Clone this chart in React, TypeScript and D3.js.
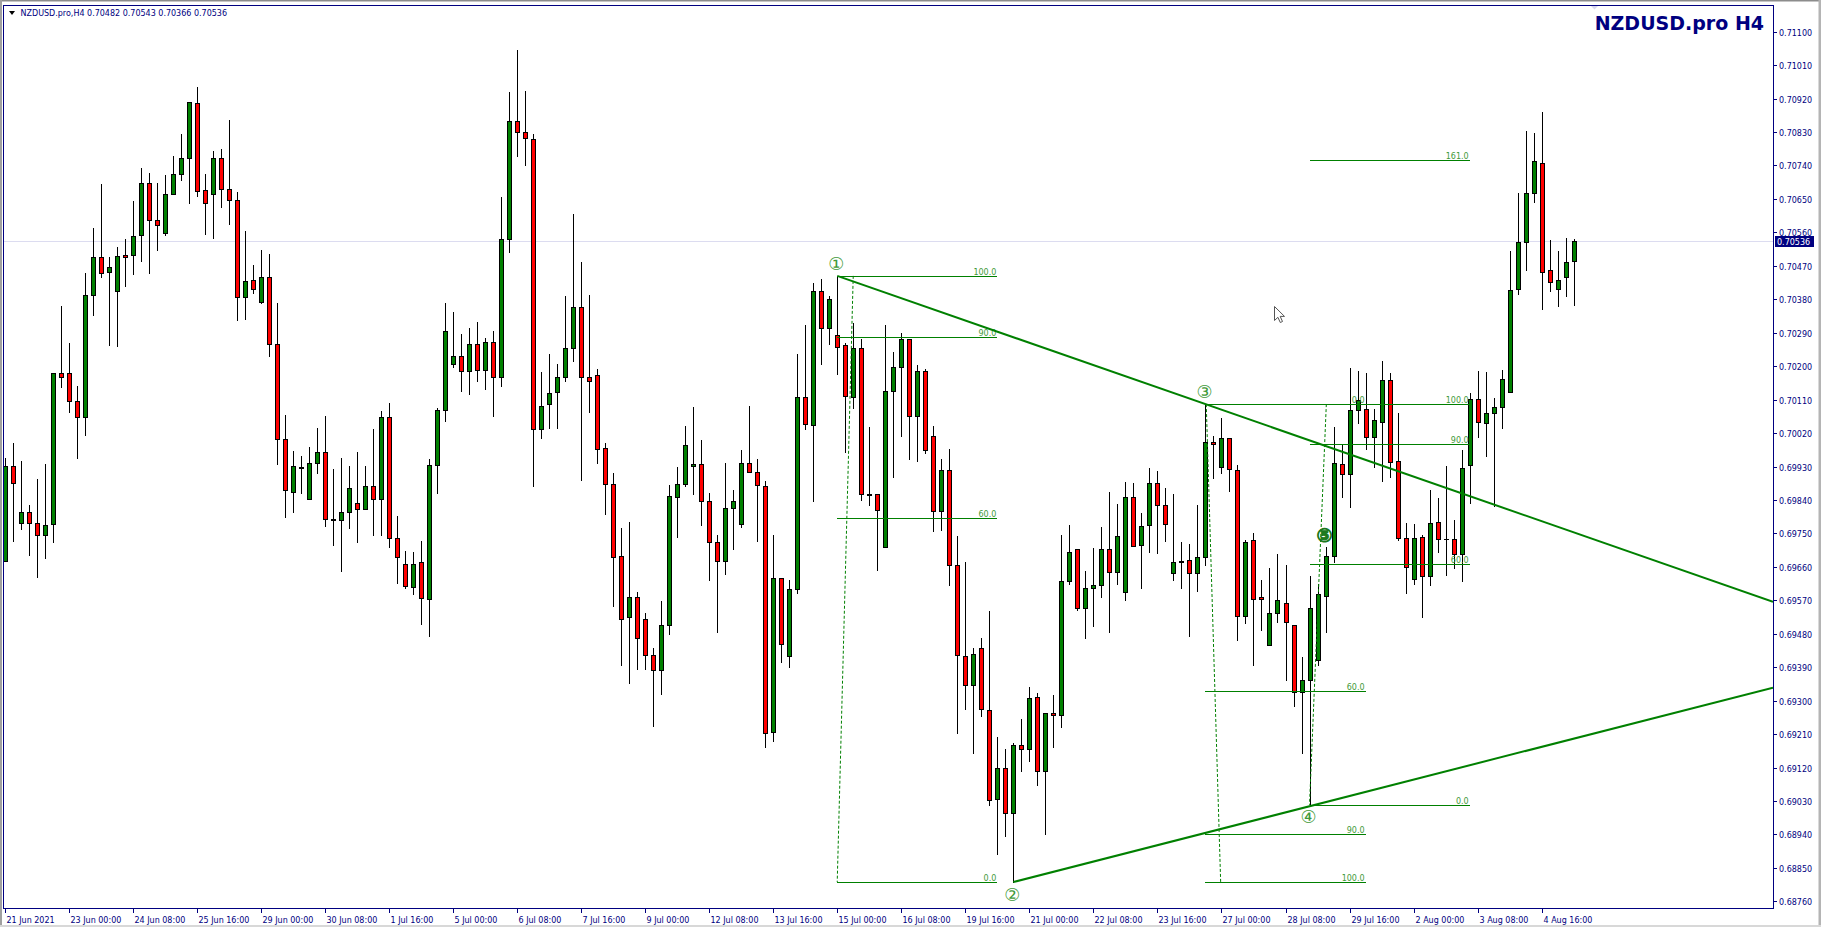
import React from 'react';
import * as d3 from 'd3';

const W = 1821;
const H = 927;
const PLOT = { left: 3, top: 4.5, right: 1773, bottom: 908 };

const SYMBOL = 'NZDUSD.pro';
const PERIOD = 'H4';
const POINT = 0.00001; // quotes below are stored in points

const opens = [
  69677, 69932, 69777, 69807, 69777, 69747, 69775, 70183, 70183, 70106, 70062, 70391, 70493, 70454, 70401, 70498,
  70498, 70553, 70692, 70593, 70558, 70663, 70716, 70760, 70907, 70673, 70663, 70760, 70676, 70646, 70386, 70431,
  70373, 70441, 70259, 70004, 69861, 69927, 69844, 69939, 69968, 69788, 69785, 69807, 69831, 69817, 69879, 69842,
  70062, 69737, 69667, 69605, 69672, 69574, 69934, 70081, 70207, 70227, 70187, 70260, 70189, 70264, 70171, 70542,
  70861, 70829, 70811, 70030, 70097, 70131, 70170, 70248, 70359, 70171, 70175, 69980, 69884, 69689, 69524, 69580,
  69521, 69422, 69383, 69503, 69849, 69884, 69931, 69936, 69837, 69728, 69676, 69818, 69775, 69939, 69915, 69877,
  69216, 69630, 69420, 69600, 70118, 70043, 70401, 70304, 70283, 70257, 70117, 70248, 69857, 69855, 69714, 70133,
  70197, 70274, 70066, 70186, 70012, 69810, 69922, 69666, 69421, 69342, 69443, 69274, 69036, 69118, 68998, 69180,
  69171, 69310, 69110, 69267, 69261, 69621, 69707, 69549, 69602, 69610, 69707, 69646, 69593, 69847, 69718, 69772,
  69887, 69826, 69643, 69673, 69678, 69643, 69686, 69995, 69930, 70006, 69922, 69528, 69732, 69579, 69451, 69536,
  69564, 69505, 69323, 69355, 69409, 69582, 69690, 69936, 69911, 70081, 70084, 70010, 70049, 70162, 69944, 69737,
  69627, 69740, 69636, 69780, 69734, 69734, 69696, 69933, 70111, 70046, 70073, 70090, 70130, 70407, 70535, 70665,
  70748, 70458, 70409, 70440, 70482,
];
const highs = [
  69952, 69993, 69945, 69827, 69897, 69937, 70183, 70362, 70262, 70146, 70450, 70573, 70691, 70493, 70520, 70542,
  70644, 70733, 70719, 70693, 70714, 70766, 70824, 70911, 70951, 70717, 70778, 70784, 70863, 70668, 70564, 70472,
  70512, 70502, 70370, 70069, 69972, 69958, 69982, 70034, 70066, 69923, 69953, 69932, 69969, 69932, 70031, 70080,
  70101, 69797, 69704, 69700, 69729, 69950, 70087, 70370, 70346, 70287, 70303, 70319, 70275, 70294, 70655, 70938,
  71050, 70941, 70826, 70185, 70234, 70206, 70388, 70610, 70481, 70392, 70193, 69993, 69913, 69765, 69781, 69593,
  69535, 69442, 69568, 69881, 69929, 70039, 70090, 70002, 69858, 69745, 69940, 69868, 69975, 70094, 69951, 69892,
  69746, 69630, 69625, 70234, 70311, 70424, 70435, 70390, 70443, 70262, 70316, 70274, 70036, 69857, 70310, 70238,
  70289, 70274, 70202, 70193, 70039, 69949, 69978, 69743, 69673, 69442, 69469, 69542, 69202, 69170, 69185, 69251,
  69338, 69321, 69267, 69315, 69746, 69773, 69707, 69649, 69712, 69767, 69862, 69829, 69888, 69886, 69804, 69927,
  69918, 69872, 69857, 69727, 69721, 69827, 70099, 70012, 70060, 70006, 69935, 69732, 69751, 69624, 69658, 69695,
  69666, 69505, 69417, 69636, 69615, 69713, 70036, 69988, 70196, 70186, 70181, 70085, 70214, 70183, 70074, 69778,
  69775, 69747, 69867, 69846, 69931, 69786, 69974, 70127, 70187, 70184, 70114, 70190, 70510, 70666, 70833, 70828,
  70884, 70540, 70510, 70545, 70543,
];
const lows = [
  69675, 69731, 69763, 69693, 69634, 69684, 69726, 70145, 70076, 69954, 70016, 70338, 70441, 70258, 70255, 70417,
  70449, 70482, 70452, 70513, 70552, 70663, 70700, 70640, 70659, 70557, 70546, 70627, 70583, 70325, 70328, 70398,
  70371, 70228, 69938, 69793, 69809, 69858, 69844, 69913, 69770, 69718, 69650, 69766, 69728, 69817, 69746, 69746,
  69714, 69616, 69602, 69587, 69507, 69474, 69860, 70052, 70197, 70134, 70126, 70161, 70138, 70067, 70147, 70507,
  70766, 70740, 69879, 70008, 70034, 70033, 70159, 70215, 69894, 70076, 69940, 69802, 69555, 69395, 69348, 69385,
  69385, 69232, 69319, 69480, 69740, 69879, 69856, 69772, 69625, 69485, 69640, 69707, 69767, 69915, 69730, 69175,
  69191, 69403, 69390, 69590, 70031, 69837, 70207, 70260, 70178, 69970, 70087, 69839, 69826, 69651, 69714, 69903,
  70011, 69949, 69944, 69966, 69756, 69760, 69610, 69213, 69277, 69160, 69259, 69019, 68887, 68936, 68812, 69110,
  69137, 69072, 68942, 69175, 69230, 69615, 69545, 69468, 69500, 69578, 69484, 69614, 69572, 69716, 69604, 69699,
  69698, 69731, 69624, 69602, 69475, 69595, 69666, 69900, 69913, 69864, 69462, 69508, 69395, 69489, 69451, 69511,
  69357, 69287, 69158, 69020, 69397, 69484, 69672, 69849, 69822, 70046, 69977, 69929, 69892, 69903, 69733, 69590,
  69614, 69524, 69612, 69699, 69638, 69657, 69623, 69833, 70010, 69958, 69825, 70035, 70130, 70394, 70460, 70642,
  70355, 70403, 70363, 70390, 70366,
];
const closes = [
  69932, 69885, 69807, 69777, 69747, 69774, 70183, 70170, 70106, 70062, 70391, 70493, 70450, 70468, 70496, 70493,
  70550, 70692, 70594, 70579, 70663, 70716, 70759, 70911, 70671, 70638, 70760, 70676, 70646, 70386, 70428, 70409,
  70441, 70259, 70004, 69866, 69931, 69928, 69939, 69968, 69789, 69787, 69807, 69871, 69817, 69879, 69842, 70062,
  69739, 69686, 69608, 69669, 69576, 69934, 70081, 70294, 70227, 70187, 70260, 70189, 70264, 70171, 70542, 70859,
  70829, 70813, 70030, 70094, 70129, 70170, 70248, 70359, 70171, 70160, 69977, 69883, 69686, 69519, 69579, 69469,
  69422, 69383, 69503, 69850, 69884, 69987, 69936, 69837, 69728, 69676, 69818, 69837, 69939, 69915, 69881, 69214,
  69630, 69452, 69600, 70118, 70045, 70402, 70304, 70380, 70251, 70120, 70248, 69857, 69854, 69813, 70133, 70197,
  70274, 70066, 70186, 69974, 69810, 69922, 69666, 69422, 69342, 69425, 69278, 69032, 69120, 68998, 69180, 69170,
  69306, 69110, 69267, 69261, 69621, 69699, 69549, 69602, 69612, 69707, 69646, 69742, 69847, 69716, 69769, 69887,
  69826, 69775, 69672, 69676, 69643, 69686, 69995, 69990, 70006, 69924, 69528, 69727, 69573, 69573, 69536, 69570,
  69511, 69323, 69356, 69549, 69586, 69688, 69939, 69911, 70081, 70108, 70010, 70054, 70162, 69942, 69737, 69659,
  69737, 69636, 69778, 69734, 69734, 69696, 69927, 70111, 70050, 70074, 70090, 70165, 70404, 70533, 70665, 70751,
  70454, 70426, 70431, 70480, 70536,
];

const timeLabels = [
  '21 Jun 2021', '23 Jun 00:00', '24 Jun 08:00', '25 Jun 16:00', '29 Jun 00:00', '30 Jun 08:00', '1 Jul 16:00',
  '5 Jul 00:00', '6 Jul 08:00', '7 Jul 16:00', '9 Jul 00:00', '12 Jul 08:00', '13 Jul 16:00', '15 Jul 00:00',
  '16 Jul 08:00', '19 Jul 16:00', '21 Jul 00:00', '22 Jul 08:00', '23 Jul 16:00', '27 Jul 00:00', '28 Jul 08:00',
  '29 Jul 16:00', '2 Aug 00:00', '3 Aug 08:00', '4 Aug 16:00',
];
const BARS_PER_LABEL = 8;

const priceTicks = [
  0.6876, 0.6885, 0.6894, 0.6903, 0.6912, 0.6921, 0.693, 0.6939, 0.6948, 0.6957, 0.6966, 0.6975, 0.6984, 0.6993,
  0.7002, 0.7011, 0.702, 0.7029, 0.7038, 0.7047, 0.7056, 0.7065, 0.7074, 0.7083, 0.7092, 0.7101, 0.711,
];

// Fibonacci objects: level 0 / level 100 prices, horizontal span in bars, base-line anchors
const fibFrom = [104, 150, 163];
const fibTo = [124, 170, 183];
const fibPrice0 = [68812, 70098, 69020];
const fibPrice100 = [70443, 68812, 70098];
const fibAnchorA = [[106, 70443], [150.1, 70098], [165.1, 70098]];
const fibAnchorB = [[104, 68812], [151.9, 68812], [163, 69020]];
const fibLevels = [[0, 60, 90, 100], [0, 60, 90, 100], [0, 60, 90, 100, 161]];

// Triangle boundaries (bar, price) — extended to the right edge
const upperLine = [[104, 70443], [150, 70098]];
const lowerLine = [[126, 68812], [163, 69016]];

// Wave counts
const waveText = ['①', '②', '③', '④', '⑤'];
const waveBar = [104, 126, 150, 163, 165];
const wavePrice = [70443, 68812, 70099, 69020, 69713];
const waveAbove = [true, false, true, false, true];

const BULL = '#008000';
const BEAR = '#ff0000';
const NAVY = '#000080';
const LINE_GREEN = '#008000';
const LABEL_GREEN = '#3f9a3a';
const FONT = "'DejaVu Sans', Verdana, sans-serif";

export default function App() {
  const n = opens.length;
  const x = d3.scaleLinear().domain([0, n - 1]).range([4.7, 4.7 + 8.005 * (n - 1)]);
  const y = d3.scaleLinear().domain([0.6876, 0.711]).range([901.4, 31.7]);
  const py = (pts: number) => y(pts * POINT);

  const last = n - 1;
  const fmt = (v: number) => (v * POINT).toFixed(5);
  const header = `${SYMBOL},${PERIOD}  ${fmt(opens[last])} ${fmt(highs[last])} ${fmt(lows[last])} ${fmt(closes[last])}`;
  const lastY = Math.round(py(closes[last])) + 0.5;

  const rightBar = x.invert(PLOT.right);
  const extend = (ln: number[][]) => {
    const [[b1, p1], [b2, p2]] = ln;
    const slope = (p2 - p1) / (b2 - b1);
    return { x1: x(b1), y1: py(p1), x2: x(rightBar), y2: py(p1 + slope * (rightBar - b1)) };
  };
  const up = extend(upperLine);
  const lo = extend(lowerLine);

  const candles = opens.map((o, i) => {
    const c = closes[i];
    const cx = Math.round(x(i));
    const yh = Math.round(py(highs[i]));
    const yl = Math.round(py(lows[i]));
    const yo = Math.round(py(o));
    const yc = Math.round(py(c));
    const top = Math.min(yo, yc);
    const bot = Math.max(yo, yc);
    return (
      <g key={i}>
        <line x1={cx + 0.5} x2={cx + 0.5} y1={yh} y2={yl + 1} stroke="#000" />
        {bot > top ? (
          <rect x={cx - 1.5} y={top + 0.5} width={4} height={bot - top} fill={c > o ? BULL : BEAR} stroke="#000" />
        ) : (
          <line x1={cx - 2} x2={cx + 3} y1={top + 0.5} y2={top + 0.5} stroke="#000" />
        )}
      </g>
    );
  });

  const fibs = fibFrom.map((from, k) => {
    const x1 = x(from);
    const x2 = x(fibTo[k]);
    const p0 = fibPrice0[k];
    const p100 = fibPrice100[k];
    return (
      <g key={k}>
        <line
          x1={x(fibAnchorA[k][0])}
          y1={py(fibAnchorA[k][1])}
          x2={x(fibAnchorB[k][0])}
          y2={py(fibAnchorB[k][1])}
          stroke={LINE_GREEN}
          strokeDasharray="3 2"
        />
        {fibLevels[k].map((lv) => {
          const ly = Math.round(py(p0 + ((p100 - p0) * lv) / 100)) + 0.5;
          return (
            <g key={lv}>
              <line x1={x1} x2={x2} y1={ly} y2={ly} stroke={LINE_GREEN} shapeRendering="crispEdges" />
              <text x={x2 - 1} y={ly - 2} textAnchor="end" fontSize={8} fontFamily={FONT} fill={LABEL_GREEN}>
                {lv.toFixed(1)}
              </text>
            </g>
          );
        })}
      </g>
    );
  });

  return (
    <svg
      width={W}
      height={H}
      viewBox={`0 0 ${W} ${H}`}
      style={{ position: 'absolute', left: 0, top: 0, display: 'block' }}
    >
      <defs>
        <clipPath id="plot-clip">
          <rect x={PLOT.left + 0.5} y={PLOT.top + 0.5} width={PLOT.right - PLOT.left - 0.5} height={PLOT.bottom - PLOT.top - 0.5} />
        </clipPath>
      </defs>
      <rect x={0} y={0} width={W} height={H} fill="#fff" />

      {/* window frame */}
      <rect x={0} y={0} width={W} height={1.5} fill="#8c8c8c" />
      <rect x={0} y={0} width={2} height={H} fill="#a0a0a0" />
      <rect x={W - 2.5} y={0} width={2.5} height={H} fill="#b4b4b4" />
      <rect x={0} y={H - 2} width={W} height={2} fill="#d8d8d8" />

      <g clipPath="url(#plot-clip)">
        {/* bid line */}
        <line x1={PLOT.left} x2={PLOT.right} y1={lastY} y2={lastY} stroke="#dcdcf0" shapeRendering="crispEdges" />
        <g shapeRendering="crispEdges">{candles}</g>
        {fibs}
        <line {...up} stroke={LINE_GREEN} strokeWidth={2} />
        <line {...lo} stroke={LINE_GREEN} strokeWidth={2} />
        {waveText.map((t, k) => (
          <text
            key={t}
            x={x(waveBar[k]) - 1}
            y={py(wavePrice[k]) + (waveAbove[k] ? -12 : 12)}
            textAnchor="middle"
            dominantBaseline="central"
            fontSize={k === 4 ? 19 : 18}
            fontFamily="'DejaVu Sans', 'Noto Sans CJK SC', sans-serif"
            fill={k === 4 ? '#1d7a1d' : LABEL_GREEN}
            stroke={k === 4 ? '#1d7a1d' : 'none'}
            strokeWidth={k === 4 ? 1 : 0}
            fontWeight={k === 4 ? 'bold' : 'normal'}
          >
            {t}
          </text>
        ))}
        {/* mouse pointer */}
        <path
          transform="translate(1274.5,306.5)"
          d="M0,0 L0,14 L3.4,10.8 L5.8,16 L8,15 L5.7,9.9 L10,9.9 Z"
          fill="#fff"
          stroke="#555"
          strokeWidth={1}
        />
      </g>

      {/* header */}
      <polygon points="9,11 15,11 12,15" fill="#000" />
      <text x={20.5} y={15.5} fontSize={8} fontFamily={FONT} fill={NAVY}>
        {header}
      </text>
      <text x={1764} y={29.5} textAnchor="end" fontSize={19} fontWeight="bold" fontFamily={FONT} fill={NAVY}>
        {`${SYMBOL} ${PERIOD}`}
      </text>
      <polygon points="1590,5 1599,5 1594.5,9.5" fill="#d8d8f0" />

      {/* chart border */}
      <g shapeRendering="crispEdges" stroke={NAVY}>
        <line x1={PLOT.left + 0.5} x2={PLOT.left + 0.5} y1={PLOT.top} y2={PLOT.bottom + 0.5} />
        <line x1={PLOT.left} x2={PLOT.right + 0.5} y1={PLOT.top + 0.5} y2={PLOT.top + 0.5} />
        <line x1={PLOT.right + 0.5} x2={PLOT.right + 0.5} y1={PLOT.top} y2={PLOT.bottom + 0.5} />
        <line x1={PLOT.left} x2={PLOT.right + 0.5} y1={PLOT.bottom + 0.5} y2={PLOT.bottom + 0.5} />
      </g>

      {/* price axis */}
      {priceTicks.map((v) => {
        const ty = Math.round(y(v)) + 0.5;
        return (
          <g key={v}>
            <line x1={PLOT.right + 1} x2={PLOT.right + 4} y1={ty} y2={ty} stroke={NAVY} shapeRendering="crispEdges" />
            <text x={1779} y={ty + 3} fontSize={8} fontFamily={FONT} fill={NAVY}>
              {v.toFixed(5)}
            </text>
          </g>
        );
      })}
      <rect x={1775} y={lastY - 5.5} width={39} height={11} fill={NAVY} />
      <text x={1777} y={lastY + 3} fontSize={8} fontFamily={FONT} fill="#fff">
        {fmt(closes[last])}
      </text>

      {/* time axis */}
      {timeLabels.map((lbl, k) => {
        const tx = Math.round(x(k * BARS_PER_LABEL)) + 0.5;
        return (
          <g key={lbl}>
            <line x1={tx} x2={tx} y1={PLOT.bottom + 1} y2={PLOT.bottom + 5} stroke={NAVY} shapeRendering="crispEdges" />
            <text x={tx + 1} y={923} fontSize={8} fontFamily={FONT} fill={NAVY}>
              {lbl}
            </text>
          </g>
        );
      })}
    </svg>
  );
}
